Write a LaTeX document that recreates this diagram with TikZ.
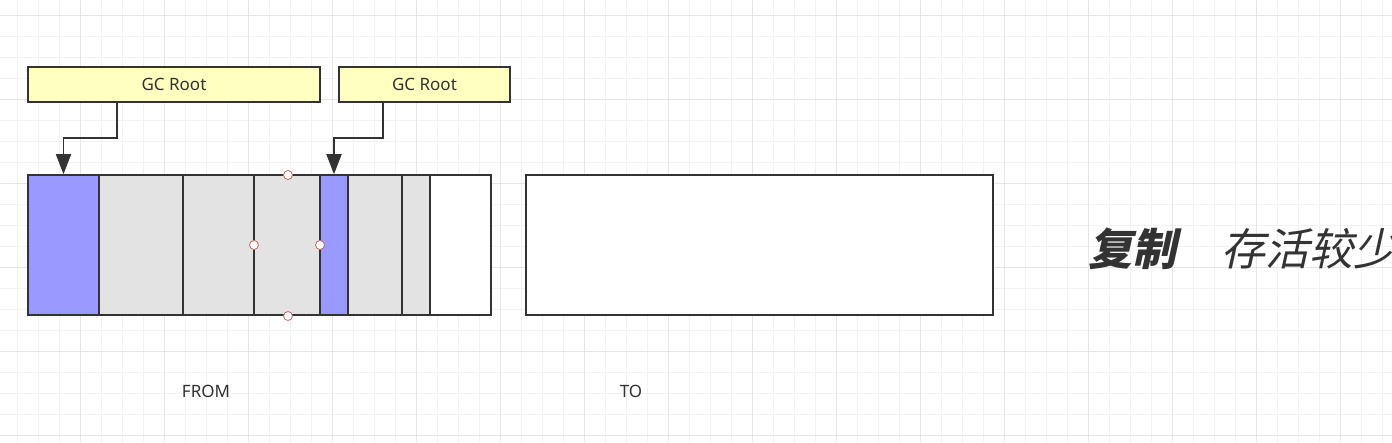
\documentclass[tikz,border=0pt]{standalone}
\usepackage{fontspec}
\setmainfont{Noto Sans}
\newfontfamily\cjk[FakeSlant=0.22,BoldFeatures={FakeSlant=0.22}]{Noto Sans CJK SC}
\usetikzlibrary{arrows.meta, positioning}
\definecolor{linec}{HTML}{333333}
\definecolor{textc}{HTML}{333333}
\definecolor{rootfill}{HTML}{FFFFC0}
\definecolor{live}{HTML}{9999FF}
\definecolor{dead}{HTML}{E3E3E3}
\definecolor{gridminor}{HTML}{F2F2F2}
\definecolor{gridmajor}{HTML}{E6E6E6}
\tikzset{root/.style={draw=linec,line width=1.6pt,fill=rootfill,minimum height=35pt,inner sep=0pt,font=\fontsize{17}{20}\selectfont,text=textc},
         cell/.style={draw=linec,line width=1.6pt,minimum height=140pt,inner sep=0pt},
         ref/.style={draw=linec,line width=1.8pt,-{Triangle[length=20pt,width=15pt]}},
         handle/.style={circle,draw=black!40!red!60,fill=white,line width=0.8pt,minimum size=9pt,inner sep=0pt},
         space/.style={font=\fontsize{17}{20}\selectfont,text=textc}}

\begin{document}
\begin{tikzpicture}[x=1pt,y=-1pt]
        \useasboundingbox (0,0) rectangle (1392,442);
        \fill[white] (0,0) rectangle (1392,442);
        \foreach \gx in {17,38,...,1392} \draw[gridminor,line width=1pt] (\gx,0) -- (\gx,442);
        \foreach \gy in {15,36,...,442} \draw[gridminor,line width=1pt] (0,\gy) -- (1392,\gy);
        \foreach \gx in {80,164,...,1392} \draw[gridmajor,line width=1pt] (\gx,0) -- (\gx,442);
        \foreach \gy in {15,99,...,442} \draw[gridmajor,line width=1pt] (0,\gy) -- (1392,\gy);

        \node[root, minimum width=292pt](root1)at(174,84.5){GC Root};
        \node[root, minimum width=171pt](root2)at(424.5,84.5){GC Root};

        \node[cell, fill=live, minimum width=71pt](c1)at(63.5,245){};
        \node[cell, fill=dead, minimum width=84pt](c2)at(141,245){};
        \node[cell, fill=dead, minimum width=71pt](c3)at(218.5,245){};
        \node[cell, fill=dead, minimum width=66pt](c4)at(287,245){};
        \node[cell, fill=live, minimum width=28pt](c5)at(334,245){};
        \node[cell, fill=dead, minimum width=54pt](c6)at(375,245){};
        \node[cell, fill=dead, minimum width=28pt](c7)at(416,245){};
        \node[cell, fill=white, minimum width=61pt](c8)at(460.5,245){};

        \node[cell, fill=white, minimum width=467pt](to)at(759.5,245){};

        \node[handle](h1)at(288,175){};
        \node[handle](h2)at(254,245){};
        \node[handle](h3)at(320,245){};
        \node[handle](h4)at(288,316){};

        \coordinate(bend1)at(117,138);
        \coordinate(bend2)at(383,138);
        \draw[ref](root1.south -| bend1)--(bend1)-|(c1.north);
        \draw[ref](root2.south -| bend2)--(bend2)-|(c5.north);

        \node[space](from)at(206,391){FROM};
        \node[space](tolabel)at(631,391){TO};

        \node[anchor=west, inner sep=0pt, text=textc, font=\cjk\fontsize{44}{50}\selectfont\bfseries](copy)at(1088,249){复制};
        \node[anchor=west, inner sep=0pt, text=textc, font=\cjk\fontsize{44}{50}\selectfont](few)at(1221,249){存活较少};
    \end{tikzpicture}
\end{document}
